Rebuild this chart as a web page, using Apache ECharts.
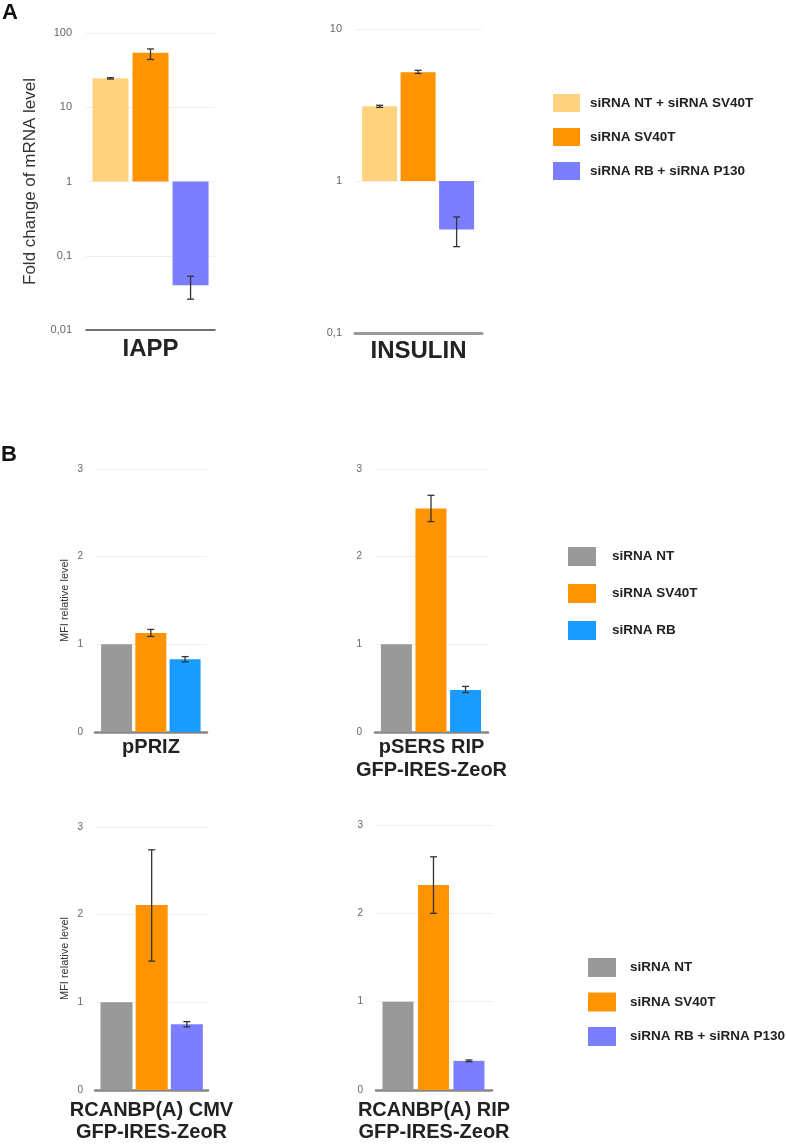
<!DOCTYPE html>
<html>
<head>
<meta charset="utf-8">
<script src="https://cdn.jsdelivr.net/npm/echarts@6/dist/echarts.min.js"></script>
<style>
  html, body { margin: 0; padding: 0; background: #fff; }
  #chart { width: 786px; height: 1144px; }
</style>
</head>
<body>
<div id="chart"></div>
<script>
// ---------- DATA ----------
const conditionsA = ['siRNA NT + siRNA SV40T', 'siRNA SV40T', 'siRNA RB + siRNA P130'];
const conditionsB1 = ['siRNA NT', 'siRNA SV40T', 'siRNA RB'];
const conditionsB2 = ['siRNA NT', 'siRNA SV40T', 'siRNA RB + siRNA P130'];

const iappValues = [24.5, 54, 0.04];
const iappErrLow = [24, 44, 0.026];
const iappErrHigh = [25, 61, 0.053];

const insulinValues = [3.1, 5.2, 0.48];
const insulinErrLow = [3.05, 5.1, 0.37];
const insulinErrHigh = [3.15, 5.35, 0.58];

const pprizValues = [1, 1.13, 0.83];
const pprizErrLow = [null, 1.09, 0.80];
const pprizErrHigh = [null, 1.17, 0.86];

const psersValues = [1, 2.55, 0.48];
const psersErrLow = [null, 2.40, 0.45];
const psersErrHigh = [null, 2.70, 0.52];

const cmvValues = [1, 2.11, 0.75];
const cmvErrLow = [null, 1.47, 0.72];
const cmvErrHigh = [null, 2.74, 0.78];

const ripValues = [1, 2.32, 0.33];
const ripErrLow = [null, 2.00, 0.32];
const ripErrHigh = [null, 2.64, 0.34];

const labelIAPP = 'IAPP';
const labelINSULIN = 'INSULIN';
const labelPPRIZ = 'pPRIZ';
const labelPSERS = 'pSERS RIP\nGFP-IRES-ZeoR';
const labelCMV = 'RCANBP(A) CMV\nGFP-IRES-ZeoR';
const labelRIP = 'RCANBP(A) RIP\nGFP-IRES-ZeoR';
const yNameA = 'Fold change of mRNA level';
const yNameB = 'MFI relative level';

// ---------- STYLE ----------
const colorMap = {
  'siRNA NT + siRNA SV40T': '#FFD27F',
  'siRNA SV40T': '#FF9300',
  'siRNA RB + siRNA P130': '#7B7FFF',
  'siRNA NT': '#999999',
  'siRNA RB': '#1A9CFF'
};
const FONT = '"Liberation Sans", Arial, Helvetica, sans-serif';

const panels = [
  { label: labelIAPP, conds: conditionsA, values: iappValues, lo: iappErrLow, hi: iappErrHigh,
    grid: { left: 86, width: 129, top: 33, height: 297 }, ylog: true, ymin: 0.01, ymax: 100,
    xmin: -0.61, xmax: 2.61, barWidth: 36, lineColor: '#444', lineWidth: 1.5,
    nameGap: 6, nameSize: 24, lineHeight: 26, yName: yNameA, yNameGap: 47, yNameSize: 17,
    tickSize: 11, tickMargin: 14 },
  { label: labelINSULIN, conds: conditionsA, values: insulinValues, lo: insulinErrLow, hi: insulinErrHigh,
    grid: { left: 355, width: 127, top: 29, height: 304 }, ylog: true, ymin: 0.1, ymax: 10,
    xmin: -0.64, xmax: 2.66, barWidth: 35, lineColor: '#999', lineWidth: 3,
    nameGap: 5, nameSize: 24, lineHeight: 26, yName: '', tickSize: 11, tickMargin: 13 },
  { label: labelPPRIZ, conds: conditionsB1, values: pprizValues, lo: pprizErrLow, hi: pprizErrHigh,
    grid: { left: 95, width: 112, top: 469, height: 263 }, ylog: false, ymin: 0, ymax: 3,
    xmin: -0.63, xmax: 2.64, barWidth: 31, lineColor: '#888', lineWidth: 2.5,
    nameGap: 4, nameSize: 20, lineHeight: 23, yName: yNameB, yNameGap: 25, yNameSize: 11,
    tickSize: 10, tickMargin: 12 },
  { label: labelPSERS, conds: conditionsB1, values: psersValues, lo: psersErrLow, hi: psersErrHigh,
    grid: { left: 375, width: 113, top: 469, height: 263 }, ylog: false, ymin: 0, ymax: 3,
    xmin: -0.62, xmax: 2.65, barWidth: 31, lineColor: '#888', lineWidth: 2.5,
    nameGap: 4, nameSize: 20, lineHeight: 23, yName: '', tickSize: 10, tickMargin: 13 },
  { label: labelCMV, conds: conditionsB2, values: cmvValues, lo: cmvErrLow, hi: cmvErrHigh,
    grid: { left: 95, width: 113, top: 827, height: 265 }, ylog: false, ymin: 0, ymax: 3,
    xmin: -0.61, xmax: 2.60, barWidth: 32, lineColor: '#888', lineWidth: 2.5,
    nameGap: 9, nameSize: 20, lineHeight: 22, yName: yNameB, yNameGap: 25, yNameSize: 11,
    tickSize: 10, tickMargin: 12 },
  { label: labelRIP, conds: conditionsB2, values: ripValues, lo: ripErrLow, hi: ripErrHigh,
    grid: { left: 376, width: 116, top: 825, height: 268 }, ylog: false, ymin: 0, ymax: 3,
    xmin: -0.62, xmax: 2.65, barWidth: 31, lineColor: '#888', lineWidth: 2.5,
    nameGap: 9, nameSize: 20, lineHeight: 22, yName: '', tickSize: 10, tickMargin: 13 }
];

function fmtTick(v) {
  return String(Number(Number(v).toPrecision(6))).replace('.', ',');
}

function renderErr(params, api) {
  const x = api.value(0);
  const a = api.coord([x, api.value(1)]);
  const b = api.coord([x, api.value(2)]);
  const cw = 3.5;
  const st = { stroke: '#333', lineWidth: 1.3 };
  return {
    type: 'group',
    children: [
      { type: 'line', shape: { x1: a[0], y1: a[1], x2: b[0], y2: b[1] }, style: st },
      { type: 'line', shape: { x1: a[0] - cw, y1: a[1], x2: a[0] + cw, y2: a[1] }, style: st },
      { type: 'line', shape: { x1: b[0] - cw, y1: b[1], x2: b[0] + cw, y2: b[1] }, style: st }
    ]
  };
}

const grids = [], xAxes = [], yAxes = [], series = [];
panels.forEach((p, gi) => {
  grids.push(Object.assign({ containLabel: false }, p.grid));
  xAxes.push({
    type: 'value', gridIndex: gi, min: p.xmin, max: p.xmax,
    axisLine: { show: true, onZero: false, lineStyle: { color: p.lineColor, width: p.lineWidth } },
    axisTick: { show: false }, axisLabel: { show: false }, splitLine: { show: false },
    name: p.label, nameLocation: 'middle', nameGap: p.nameGap,
    nameTextStyle: { fontFamily: FONT, fontWeight: 'bold', fontSize: p.nameSize, color: '#222', lineHeight: p.lineHeight }
  });
  const y = {
    type: p.ylog ? 'log' : 'value', gridIndex: gi, min: p.ymin, max: p.ymax,
    axisLine: { show: false }, axisTick: { show: false },
    axisLabel: { fontFamily: FONT, fontSize: p.tickSize, color: '#666', margin: p.tickMargin, formatter: fmtTick },
    splitLine: { show: true, lineStyle: { color: '#eeeeee', width: 1 } },
    name: p.yName, nameLocation: 'middle', nameGap: p.yNameGap || 0,
    nameTextStyle: { fontFamily: FONT, fontSize: p.yNameSize || 11, color: '#333' }
  };
  if (p.ylog) { y.logBase = 10; } else { y.interval = 1; }
  yAxes.push(y);
  p.conds.forEach((c, i) => {
    series.push({
      type: 'bar', name: c, xAxisIndex: gi, yAxisIndex: gi,
      barWidth: p.barWidth, barGap: '-100%',
      itemStyle: { color: colorMap[c] },
      data: [[i, p.values[i]]],
      silent: true, animation: false
    });
  });
  const errData = [];
  p.values.forEach((v, i) => {
    if (p.lo[i] != null && p.hi[i] != null) errData.push([i, p.lo[i], p.hi[i]]);
  });
  series.push({
    type: 'custom', name: 'err' + gi, xAxisIndex: gi, yAxisIndex: gi,
    renderItem: renderErr, encode: { x: 0, y: [1, 2] }, data: errData, z: 10,
    silent: true, animation: false
  });
});

const legendText = { fontFamily: FONT, fontWeight: 'bold', color: '#222' };
const option = {
  backgroundColor: '#ffffff',
  animation: false,
  grid: grids, xAxis: xAxes, yAxis: yAxes, series: series,
  legend: [
    { data: conditionsA, orient: 'vertical', left: 553, top: 94, padding: 0,
      itemWidth: 27, itemHeight: 18, itemGap: 16, icon: 'rect', selectedMode: false,
      textStyle: Object.assign({ fontSize: 13.5, padding: [0, 0, 0, 5] }, legendText) },
    { data: conditionsB1, orient: 'vertical', left: 568, top: 547, padding: 0,
      itemWidth: 28, itemHeight: 19, itemGap: 18, icon: 'rect', selectedMode: false,
      textStyle: Object.assign({ fontSize: 13.5, padding: [0, 0, 0, 11] }, legendText) },
    { data: conditionsB2, orient: 'vertical', left: 588, top: 958, padding: 0,
      itemWidth: 28, itemHeight: 19, itemGap: 15.5, icon: 'rect', selectedMode: false,
      textStyle: Object.assign({ fontSize: 13.5, padding: [0, 0, 0, 9] }, legendText) }
  ],
  graphic: [
    { type: 'text', left: 2, top: 2, style: { text: 'A', font: 'bold 22px ' + FONT, fill: '#111' } },
    { type: 'text', left: 1, top: 444, style: { text: 'B', font: 'bold 22px ' + FONT, fill: '#111' } }
  ]
};

const chart = echarts.init(document.getElementById('chart'), null, { renderer: 'canvas' });
chart.setOption(option);
</script>
</body>
</html>
